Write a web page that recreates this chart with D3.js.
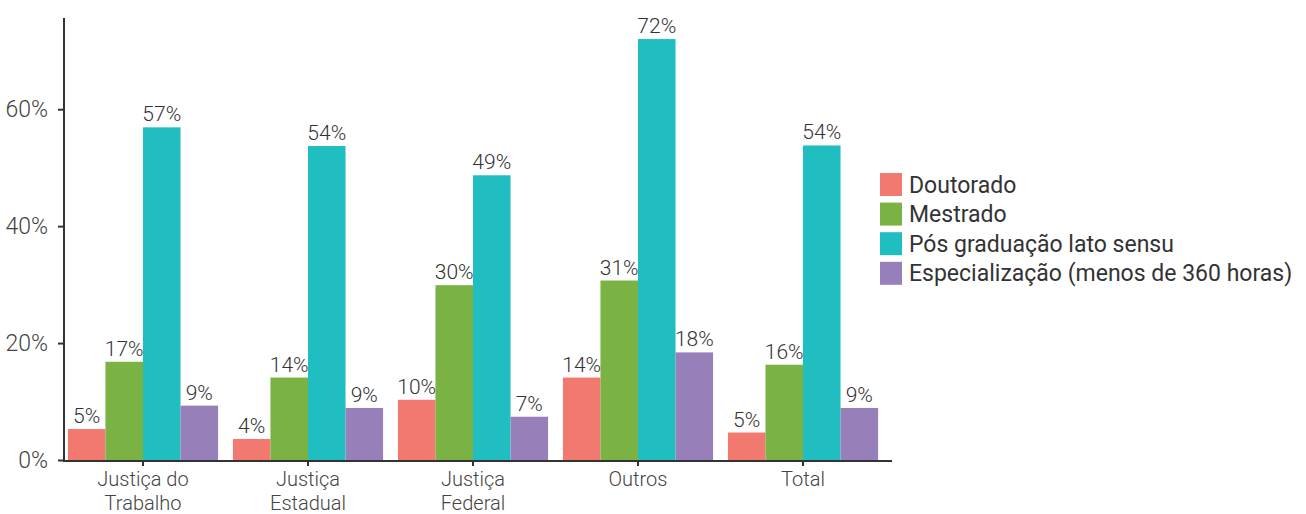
<!DOCTYPE html>
<meta charset="utf-8">
<script src="https://d3js.org/d3.v7.min.js"></script>
<style>
  body { margin: 0; background: #fff; }
  svg { font-family: Roboto, "DejaVu Sans", sans-serif; }
</style>
<div id="chart"></div>
<script>
// data (percent)
var categories = ["Justiça do\nTrabalho", "Justiça\nEstadual", "Justiça\nFederal", "Outros", "Total"];
var seriesNames = ["Doutorado", "Mestrado", "Pós graduação lato sensu", "Especialização (menos de 360 horas)"];
var doutorado = [5.3, 3.6, 10.3, 14.1, 4.7];
var mestrado = [16.8, 14.1, 29.9, 30.7, 16.3];
var posGraduacao = [56.9, 53.7, 48.7, 72.0, 53.8];
var especializacao = [9.3, 8.9, 7.4, 18.4, 8.9];
var yTicks = [0, 20, 40, 60];
var colors = ["#f27970", "#7ab244", "#20bec0", "#977fba"];

var seriesValues = [doutorado, mestrado, posGraduacao, especializacao];

var width = 1306, height = 514;
var svg = d3.select("#chart").append("svg")
  .attr("width", width)
  .attr("height", height);

var axisX = 64, axisY = 461, axisTop = 18, axisRight = 892;

// y scale
var y = d3.scaleLinear()
  .domain([0, d3.max(posGraduacao) * 1.05])
  .range([460, axisTop]);

// x scale for groups
var x = d3.scaleBand()
  .domain(categories)
  .range([60.5, 885.5])
  .padding(0);

var xInner = d3.scaleBand()
  .domain(seriesNames)
  .range([0, x.bandwidth() * 0.91]);

var innerOffset = (x.bandwidth() - xInner.range()[1]) / 2;

// bars
var rows = [];
categories.forEach(function(c, i) {
  seriesNames.forEach(function(s, j) {
    rows.push({cat: c, series: s, value: seriesValues[j][i], color: colors[j]});
  });
});

var g = svg.append("g");
g.selectAll("rect")
  .data(rows)
  .enter()
  .append("rect")
    .attr("x", function(d) { return x(d.cat) + innerOffset + xInner(d.series); })
    .attr("y", function(d) { return y(d.value); })
    .attr("width", xInner.bandwidth())
    .attr("height", function(d) { return y(0) - y(d.value); })
    .attr("fill", function(d) { return d.color; });

// value labels
g.selectAll("text.val")
  .data(rows)
  .enter()
  .append("text")
    .attr("class", "val")
    .attr("x", function(d) { return x(d.cat) + innerOffset + xInner(d.series) + xInner.bandwidth() / 2; })
    .attr("y", function(d) { return y(d.value) - 6; })
    .attr("text-anchor", "middle")
    .attr("font-size", 21)
    .attr("font-weight", 300)
    .attr("fill", "#333")
    .text(function(d) { return Math.round(d.value) + "%"; });

// y axis
var yAxis = svg.append("g")
  .attr("transform", "translate(" + axisX + ",0)")
  .call(d3.axisLeft(y).tickValues(yTicks).tickSize(6).tickPadding(10)
    .tickFormat(function(d) { return d + "%"; }));
yAxis.select(".domain").remove();
yAxis.selectAll(".tick line").attr("stroke", "#333").attr("stroke-width", 2);
yAxis.selectAll(".tick text")
  .attr("font-size", 23)
  .attr("font-weight", 300)
  .attr("fill", "#444")
  .attr("font-family", "Roboto");

// x axis
var xAxis = svg.append("g")
  .attr("transform", "translate(0," + axisY + ")")
  .call(d3.axisBottom(x).tickSize(5).tickFormat(""));
xAxis.select(".domain").remove();
xAxis.selectAll(".tick line").attr("stroke", "#333").attr("stroke-width", 2);

xAxis.selectAll(".tick").each(function(d) {
  var t = d3.select(this).append("text")
    .attr("text-anchor", "middle")
    .attr("font-size", 20)
    .attr("font-weight", 300)
    .attr("fill", "#444")
    .attr("font-family", "Roboto");
  d.split("\n").forEach(function(line, k) {
    t.append("tspan").attr("x", 0).attr("y", 25 + k * 24).text(line);
  });
});

// axis lines
svg.append("line")
  .attr("x1", axisX).attr("x2", axisX)
  .attr("y1", axisTop).attr("y2", axisY + 1)
  .attr("stroke", "#333").attr("stroke-width", 2);
svg.append("line")
  .attr("x1", axisX - 1).attr("x2", axisRight)
  .attr("y1", axisY).attr("y2", axisY)
  .attr("stroke", "#333").attr("stroke-width", 2);

// legend
var legend = svg.append("g").attr("transform", "translate(880,173)");
var item = legend.selectAll("g")
  .data(seriesNames)
  .enter()
  .append("g")
    .attr("transform", function(d, i) { return "translate(0," + (i * 29.6) + ")"; });
item.append("rect")
  .attr("width", 22)
  .attr("height", 23)
  .attr("fill", function(d, i) { return colors[i]; });
item.append("text")
  .attr("x", 29)
  .attr("y", 19.5)
  .attr("font-size", 23)
  .attr("font-weight", 400)
  .attr("fill", "#333")
  .text(function(d) { return d; });
</script>
